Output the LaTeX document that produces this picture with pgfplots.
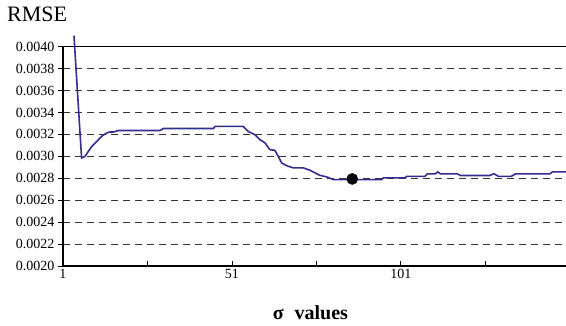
\documentclass[border=0pt]{standalone}
\usepackage{pgfplots}
\pgfplotsset{compat=1.18}
\usepackage{fontspec}
\setmainfont{Liberation Serif}
\definecolor{linecol}{RGB}{51,44,145}
\pgfplotstableread{
x y
4.25 0.004100
6.5 0.002985
7.5 0.003000
9.5 0.003090
11.0 0.003136
12.4 0.003182
13.9 0.003213
14.9 0.003222
15.9 0.003222
17.4 0.003236
29.7 0.003236
30.7 0.003254
45.5 0.003254
46.0 0.003273
54.3 0.003273
55.8 0.003227
57.8 0.003197
59.3 0.003152
60.8 0.003122
62.2 0.003061
63.7 0.003055
64.7 0.003000
65.7 0.002940
67.2 0.002915
69.1 0.002895
72.1 0.002895
74.1 0.002873
77.0 0.002827
79.0 0.002813
81.0 0.002788
95.3 0.002788
95.8 0.002804
102.2 0.002804
102.7 0.002818
108.1 0.002818
108.8 0.002840
111.1 0.002840
111.9 0.002858
112.7 0.002840
117.7 0.002840
118.7 0.002825
127.3 0.002825
128.5 0.002842
129.8 0.002818
133.7 0.002818
134.9 0.002840
145.1 0.002840
145.8 0.002858
150 0.002858
}\rmsedata
\pgfplotstableread{
x y
86.6 0.002794
}\bestpoint
\begin{document}
\begin{tikzpicture}
\begin{axis}[
  at={(0pt,0pt)}, anchor=south west,
  scale only axis,
  width=503.5pt, height=219.3pt,
  xmin=1, xmax=150,
  ymin=0.0020, ymax=0.0040,
  clip=false,
  axis x line*=bottom,
  axis y line*=left,
  axis line style={black, line width=1.1pt},
  xtick={1,26,51,76,101,126},
  xticklabels={1,,51,,101,},
  ytick={0.0020,0.0022,0.0024,0.0026,0.0028,0.0030,0.0032,0.0034,0.0036,0.0038,0.0040},
  scaled y ticks=false,
  yticklabel style={/pgf/number format/.cd, fixed, fixed zerofill, precision=4, assume math mode=true},
  xticklabel style={/pgf/number format/assume math mode=true},
  ymajorgrids,
  major grid style={black!80, line width=0.8pt, dash pattern=on 7pt off 5pt},
  extra y ticks={0.0040},
  extra y tick labels={},
  extra y tick style={grid=major, major grid style={black, solid, line width=1.1pt}},
  tick style={black, line width=0.9pt},
  major tick length=5pt,
  xtick align=inside,
  ytick align=outside,
  tick label style={font=\fontsize{14}{16}\selectfont},
]
\addplot[linecol, line width=1.6pt, mark=none] table[x=x,y=y] {\rmsedata};
\addplot[only marks, mark=*, mark size=5.6pt, black] table[x=x,y=y] {\bestpoint};
\end{axis}
\node[anchor=base west, inner sep=0pt, font=\fontsize{22}{24}\selectfont] at (-56pt,244pt) {RMSE};
\node[anchor=base, inner sep=0pt, font=\fontsize{20}{22}\selectfont\bfseries] at (247.4pt,-54pt) {σ\hspace{0.55em}values};
\pgfresetboundingbox
\path[use as bounding box] (-63pt,-60pt) rectangle (503pt,266pt);
\end{tikzpicture}
\end{document}
